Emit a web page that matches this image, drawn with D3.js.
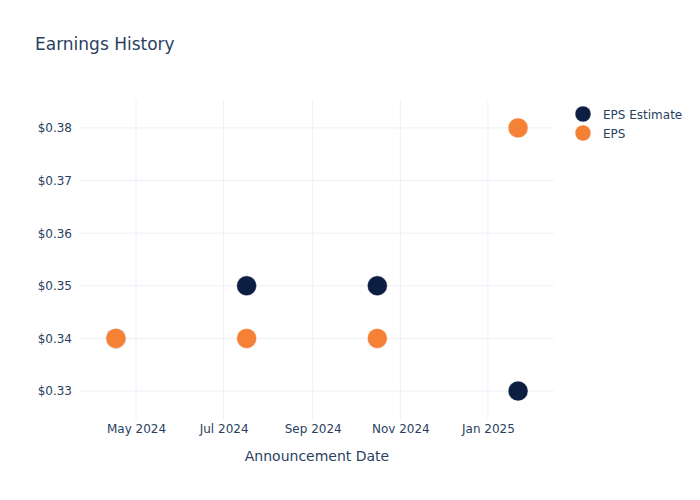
<!DOCTYPE html>
<html>
<head>
<meta charset="utf-8">
<script src="https://cdn.jsdelivr.net/npm/d3@7"></script>
<style>
  body { margin: 0; background: #fff; }
  text { font-family: "DejaVu Sans", Verdana, sans-serif; fill: #2a3f5f; }
</style>
</head>
<body>
<div id="chart"></div>
<script>
// DATA
const dates = ["2024-04-17", "2024-07-17", "2024-10-16", "2025-01-22"];
const epsEstimate = [0.34, 0.35, 0.35, 0.33];
const eps = [0.34, 0.34, 0.34, 0.38];
const seriesNames = ["EPS Estimate", "EPS"];
const seriesColors = ["#0c1f43", "#f58137"];
const yTicks = [0.33, 0.34, 0.35, 0.36, 0.37, 0.38];
const xTicks = ["2024-05-01", "2024-07-01", "2024-09-01", "2024-11-01", "2025-01-01"];

const parse = d3.timeParse("%Y-%m-%d");
const width = 700, height = 500;
const margin = { top: 100, right: 146, bottom: 80, left: 80 };
const innerWidth = width - margin.left - margin.right;
const innerHeight = height - margin.top - margin.bottom;

const svg = d3.select("#chart").append("svg")
    .attr("width", width)
    .attr("height", height);

svg.append("text")
    .attr("x", 35)
    .attr("y", 50)
    .attr("font-size", 17)
    .text("Earnings History");

const g = svg.append("g")
    .attr("transform", `translate(${margin.left}, ${margin.top})`);

// axis range padded like plotly's autorange
const xScale = d3.scaleTime()
    .domain([parse("2024-03-23"), parse("2025-02-16")])
    .range([0, innerWidth]);
const yScale = d3.scaleLinear()
    .domain([0.3245, 0.3853])
    .range([innerHeight, 0]);

// grid
g.selectAll(".x-grid").data(xTicks.map(parse)).enter().append("line")
    .attr("class", "x-grid")
    .attr("x1", d => xScale(d)).attr("x2", d => xScale(d))
    .attr("y1", 0).attr("y2", innerHeight)
    .attr("stroke", "#ebf0f8").attr("stroke-width", 1);
g.selectAll(".y-grid").data(yTicks).enter().append("line")
    .attr("class", "y-grid")
    .attr("x1", 0).attr("x2", innerWidth)
    .attr("y1", d => yScale(d)).attr("y2", d => yScale(d))
    .attr("stroke", "#ebf0f8").attr("stroke-width", 1);

// axes
const xAxis = d3.axisBottom(xScale)
    .tickValues(xTicks.map(parse))
    .tickFormat(d3.timeFormat("%b %Y"))
    .tickSize(0).tickPadding(4);
const xAxisG = g.append("g")
    .attr("transform", `translate(0, ${innerHeight})`)
    .call(xAxis);
xAxisG.select(".domain").remove();
xAxisG.selectAll("text").attr("font-size", 12).attr("fill", "#2a3f5f");

const yAxis = d3.axisLeft(yScale)
    .tickValues(yTicks)
    .tickFormat(d => "$" + d3.format(".2f")(d))
    .tickSize(0).tickPadding(8);
const yAxisG = g.append("g").call(yAxis);
yAxisG.select(".domain").remove();
yAxisG.selectAll("text").attr("font-size", 12).attr("fill", "#2a3f5f");

svg.append("text")
    .attr("x", margin.left + innerWidth / 2)
    .attr("y", 461)
    .attr("text-anchor", "middle")
    .attr("font-size", 14)
    .text("Announcement Date");

// points
[epsEstimate, eps].forEach((vals, i) => {
  g.selectAll(`.pt-${i}`).data(vals).enter().append("circle")
      .attr("class", `pt-${i}`)
      .attr("cx", (d, j) => xScale(parse(dates[j])))
      .attr("cy", d => yScale(d))
      .attr("r", 10)
      .attr("fill", seriesColors[i])
      .attr("stroke", "#fff")
      .attr("stroke-width", 0.5);
});

// legend
const legend = svg.append("g").attr("transform", "translate(583, 114)");
seriesNames.forEach((name, i) => {
  const row = legend.append("g").attr("transform", `translate(0, ${i * 19})`);
  row.append("circle").attr("r", 8).attr("fill", seriesColors[i])
      .attr("stroke", "#fff").attr("stroke-width", 0.5);
  row.append("text").attr("x", 20).attr("y", 4.5)
      .attr("font-size", 12).text(name);
});
</script>
</body>
</html>
